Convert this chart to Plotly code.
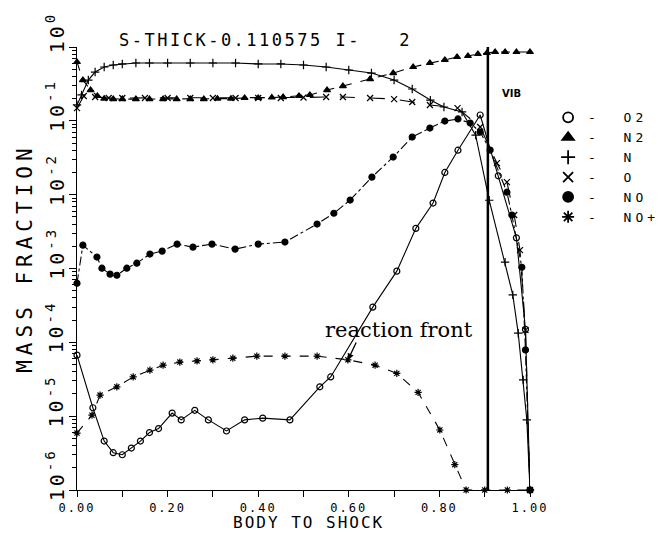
import plotly.graph_objects as go

# ---------------- data ----------------
x_O2 = [0.0, 0.035, 0.06, 0.08, 0.10, 0.12, 0.14, 0.16, 0.18, 0.21, 0.23, 0.26, 0.29, 0.33, 0.37, 0.41, 0.47,
        0.536, 0.56, 0.653, 0.706, 0.748, 0.786, 0.812, 0.841, 0.89, 0.93, 0.97, 0.99, 1.0]
y_O2 = [6.7e-5, 1.3e-5, 4.6e-6, 3.2e-6, 3.0e-6, 3.7e-6, 4.6e-6, 6.0e-6, 6.8e-6, 1.1e-5, 8.9e-6, 1.2e-5, 8.9e-6,
        6.3e-6, 8.9e-6, 9.4e-6, 8.9e-6, 2.5e-5, 3.4e-5, 3.0e-4, 9.2e-4, 3.5e-3, 7.7e-3, 2.0e-2, 4.0e-2, 0.12,
        1.8e-2, 2.6e-3, 1.5e-4, 1.0e-6]

x_N2 = [0.0, 0.013, 0.03, 0.045, 0.06, 0.08, 0.10, 0.13, 0.16, 0.19, 0.22, 0.25, 0.28, 0.31, 0.34, 0.37, 0.40,
        0.43, 0.455, 0.49, 0.514, 0.552, 0.587, 0.647, 0.698, 0.742, 0.779, 0.812, 0.839, 0.863, 0.885, 0.905,
        0.923, 0.945, 0.97, 1.0]
y_N2 = [0.626, 0.357, 0.261, 0.217, 0.200, 0.197, 0.197, 0.197, 0.197, 0.197, 0.197, 0.197, 0.197, 0.200, 0.200,
        0.204, 0.204, 0.207, 0.210, 0.217, 0.224, 0.261, 0.296, 0.368, 0.444, 0.536, 0.607, 0.667, 0.732, 0.755,
        0.804, 0.829, 0.855, 0.855, 0.855, 0.855]

x_N = [0.0, 0.01, 0.025, 0.04, 0.06, 0.08, 0.10, 0.13, 0.16, 0.20, 0.25, 0.30, 0.35, 0.40, 0.45, 0.50, 0.55,
       0.60, 0.65, 0.70, 0.74, 0.78, 0.81, 0.85, 0.88, 0.91, 0.945, 0.962, 0.974, 0.985, 0.993, 1.0]
y_N = [0.164, 0.224, 0.357, 0.458, 0.536, 0.570, 0.589, 0.607, 0.607, 0.607, 0.607, 0.607, 0.607, 0.589, 0.589,
       0.570, 0.536, 0.488, 0.444, 0.357, 0.270, 0.191, 0.154, 0.132, 0.064, 8.4e-3, 1.22e-3, 4.4e-4, 1.33e-4,
       3.1e-5, 8.9e-6, 1.0e-6]

x_O = [0.0, 0.015, 0.04, 0.07, 0.10, 0.15, 0.20, 0.25, 0.30, 0.35, 0.40, 0.45, 0.50, 0.55, 0.587, 0.647, 0.70,
       0.74, 0.779, 0.84, 0.89, 0.927, 0.949, 0.965, 0.978, 0.99, 1.0]
y_O = [0.149, 0.217, 0.210, 0.204, 0.204, 0.204, 0.204, 0.204, 0.204, 0.204, 0.204, 0.204, 0.207, 0.210, 0.210,
       0.204, 0.197, 0.180, 0.164, 0.149, 0.0824, 0.0268, 0.0148, 5.3e-3, 1.77e-3, 1.46e-4, 1.0e-6]

x_NO = [0.0, 0.013, 0.044, 0.055, 0.073, 0.088, 0.11, 0.132, 0.161, 0.188, 0.221, 0.256, 0.298, 0.349, 0.40,
        0.459, 0.53, 0.567, 0.603, 0.651, 0.698, 0.74, 0.779, 0.812, 0.841, 0.868, 0.89, 0.912, 0.949, 0.96,
        0.982, 0.99, 1.0]
y_NO = [6.3e-4, 2.07e-3, 1.43e-3, 1.01e-3, 8.4e-4, 8.1e-4, 1.01e-3, 1.18e-3, 1.57e-3, 1.72e-3, 2.14e-3, 1.95e-3,
        2.14e-3, 1.83e-3, 2.14e-3, 2.28e-3, 4.0e-3, 5.6e-3, 8.45e-3, 1.73e-2, 3.23e-2, 6.03e-2, 7.98e-2, 9.93e-2,
        0.106, 0.0933, 0.0705, 0.0402, 0.0108, 5.3e-3, 1.04e-3, 7.9e-5, 1.0e-6]

x_NOp = [0.0, 0.033, 0.051, 0.088, 0.124, 0.161, 0.19, 0.227, 0.265, 0.30, 0.344, 0.397, 0.459, 0.53, 0.598,
         0.658, 0.706, 0.753, 0.801, 0.834, 0.859, 0.90, 0.95, 1.0]
y_NOp = [5.9e-6, 1.03e-5, 1.93e-5, 2.5e-5, 3.4e-5, 4.2e-5, 4.9e-5, 5.4e-5, 5.6e-5, 5.8e-5, 6.1e-5, 6.5e-5, 6.5e-5,
         6.5e-5, 5.8e-5, 4.9e-5, 3.8e-5, 2.1e-5, 6.5e-6, 2.2e-6, 1.0e-6, 1.0e-6, 1.0e-6, 1.0e-6]

species = ["O2", "N2", "N", "O", "NO", "NO+"]
xs = [x_O2, x_N2, x_N, x_O, x_NO, x_NOp]
ys = [y_O2, y_N2, y_N, y_O, y_NO, y_NOp]
symbols = ["circle-open", "triangle-up", "cross-thin-open", "x-thin-open", "circle", "asterisk-open"]
dashes = ["solid", "dash", "solid", "longdash", "dashdot", "dash"]

x_ticks = [0.0, 0.2, 0.4, 0.6, 0.8, 1.0]
y_decades = [0, -1, -2, -3, -4, -5, -6]
front_x = 0.907
title_text = "S-THICK-0.110575 I-   2"

MONO = "DejaVu Sans Mono"


def spaced(t, px):
    return '<span style="letter-spacing:%spx">%s</span>' % (px, t)


fig = go.Figure()
for name, x, y, sym, dsh in zip(species, xs, ys, symbols, dashes):
    fig.add_trace(go.Scatter(
        x=x, y=y, mode="lines+markers", showlegend=False, cliponaxis=False,
        line=dict(color="black", width=1.1, dash=dsh),
        marker=dict(symbol=sym, size=6, color="black", line=dict(color="black", width=1.2)),
    ))
# legend-only entries
for name, sym in zip(species, symbols):
    fig.add_trace(go.Scatter(
        x=[None], y=[None], mode="markers", name=spaced("-  " + name, 4),
        marker=dict(symbol=sym, size=10, color="black", line=dict(color="black", width=1.8)),
    ))

# reaction front vertical line
fig.add_shape(type="line", xref="x", yref="y", x0=front_x, x1=front_x, y0=1e-6, y1=1.0,
              line=dict(color="black", width=2.5))

ann = []
for d in y_decades:
    ann.append(dict(x=-0.048, xref="paper", y=d, yref="y", yshift=15,
                    text=spaced("10<sup>%d</sup>" % d, 3), textangle=-90, showarrow=False,
                    font=dict(family=MONO, size=20, color="black"), xanchor="center", yanchor="middle"))
ann.append(dict(x=-0.115, xref="paper", y=0.524, yref="paper", text=spaced("MASS FRACTION", 5),
                textangle=-90, showarrow=False, font=dict(family=MONO, size=21, color="black"),
                xanchor="center", yanchor="middle"))
ann.append(dict(x=0.51, xref="paper", y=-0.074, yref="paper", text=spaced("BODY TO SHOCK", 2),
                showarrow=False, xanchor="center", yanchor="middle",
                font=dict(family=MONO, size=16, color="black")))
ann.append(dict(x=0.088, xref="paper", y=1.016, yref="paper", text=spaced(title_text, 2.5),
                showarrow=False, xanchor="left", yanchor="middle",
                font=dict(family=MONO, size=17, color="black")))
ann.append(dict(x=0.71, xref="x", y=-3.83, yref="y", text="reaction front", showarrow=False,
                xanchor="center", yanchor="middle",
                font=dict(family="DejaVu Serif", size=21, color="black")))
ann.append(dict(x=0.598, xref="x", y=-4.24, yref="y", text="", showarrow=True, arrowhead=2,
                arrowsize=1, arrowwidth=1.3, ax=9, ay=-19, arrowcolor="black"))
ann.append(dict(x=0.96, xref="x", y=-0.63, yref="y", text="<b>VIB</b>", showarrow=False,
                font=dict(family="DejaVu Sans", size=10, color="black")))

fig.update_layout(
    width=660, height=538, margin=dict(l=77, r=130, t=47, b=48, autoexpand=False),
    paper_bgcolor="white", plot_bgcolor="white",
    annotations=ann,
    showlegend=True,
    legend=dict(x=1.04, y=0.875, xanchor="left", yanchor="top", bgcolor="rgba(0,0,0,0)",
                font=dict(family=MONO, size=13, color="black"), itemwidth=30, tracegroupgap=0),
    xaxis=dict(range=[0, 1], showgrid=False, zeroline=False, showline=True, linecolor="black", linewidth=1.3,
               ticks="outside", ticklen=6, tickcolor="black", tickvals=x_ticks,
               ticktext=[spaced("%.2f" % v, 2) for v in x_ticks],
               tickfont=dict(family=MONO, size=12, color="black"),
               minor=dict(dtick=0.1, ticks="outside", ticklen=6, tickcolor="black")),
    yaxis=dict(type="log", range=[-6, 0], showgrid=False, zeroline=False, showline=True, linecolor="black",
               linewidth=1.3, ticks="outside", ticklen=7, tickcolor="black", dtick=1, showticklabels=False,
               minor=dict(dtick="D1", ticks="outside", ticklen=4, tickcolor="black")),
)
fig.write_html("out.html")
